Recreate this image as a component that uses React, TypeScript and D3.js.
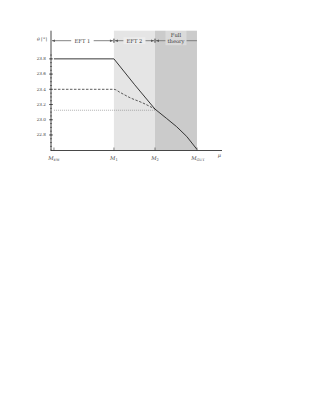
import React, {useEffect, useRef} from 'react'
import * as d3 from 'd3'

// scales on a log10(mu) axis, theta in degrees
const scaleNames = ['EW', '1', '2', 'GUT']
const scaleLogs = [2, 7.87, 11.89, 16]
const yTicks = [22.8, 23.0, 23.2, 23.4, 23.6, 23.8]

const solidLog = [2, 7.87, 9.9, 11.89, 13.0, 14.0, 15.0, 16.0]
const solidTheta = [23.8, 23.8, 23.46, 23.14, 23.02, 22.91, 22.78, 22.61]

const dashedLog = [2, 7.87, 8.46, 9.44, 10.71, 11.89]
const dashedTheta = [23.4, 23.4, 23.36, 23.29, 23.22, 23.14]

const dottedLog = [2, 11.89]
const dottedTheta = [23.125, 23.125]

const regions = [
  {label: ['EFT 1'], from: 0, to: 1},
  {label: ['EFT 2'], from: 1, to: 2},
  {label: ['Full', 'theory'], from: 2, to: 3},
]

const W = 324, H = 420
const fontFam = '"DejaVu Serif", "Liberation Serif", serif'

export default function App() {
  const ref = useRef<SVGSVGElement>(null)

  useEffect(() => {
    const svg = d3.select(ref.current)
    svg.selectAll('*').remove()

    const x = d3.scaleLinear().domain([1.71, 18.45]).range([51, 222])
    const y = d3.scaleLinear().domain([22.596, 24.17]).range([150.5, 30.7])

    const top = y(24.17), bottom = y(22.596)

    // shaded regions
    svg.append('rect')
      .attr('x', x(scaleLogs[1])).attr('y', top)
      .attr('width', x(scaleLogs[2]) - x(scaleLogs[1])).attr('height', bottom - top)
      .attr('fill', '#e5e5e5')
    svg.append('rect')
      .attr('x', x(scaleLogs[2])).attr('y', top)
      .attr('width', x(scaleLogs[3]) - x(scaleLogs[2])).attr('height', bottom - top)
      .attr('fill', '#cbcbcb')

    // header arrows
    const hy = 40.7
    const hdr = svg.append('g')
    regions.forEach((r, i) => {
      const x0 = i === 0 ? x(scaleLogs[0]) - 3 : x(scaleLogs[r.from])
      const x1 = x(scaleLogs[r.to])
      const cx = (x0 + x1) / 2
      const boxW = r.label.length > 1 ? 21 : (i === 0 ? 22 : 22)
      const boxH = r.label.length > 1 ? 15 : 7
      hdr.append('line').attr('x1', x0 + 1).attr('x2', cx - boxW / 2)
        .attr('y1', hy).attr('y2', hy).attr('stroke', '#777').attr('stroke-width', 0.9)
      hdr.append('line').attr('x1', cx + boxW / 2).attr('x2', x1 - (i === 2 ? 0 : 1))
        .attr('y1', hy).attr('y2', hy).attr('stroke', '#777').attr('stroke-width', 0.9)
      // arrowheads
      hdr.append('path').attr('d', `M${x0 + 1},${hy} l3,-1.3 v2.6 z`).attr('fill', '#555')
      if (i < 2) {
        hdr.append('path').attr('d', `M${x1 - 1},${hy} l-3,-1.3 v2.6 z`).attr('fill', '#555')
        hdr.append('line').attr('x1', x1).attr('x2', x1).attr('y1', hy - 2).attr('y2', hy + 2)
          .attr('stroke', '#555').attr('stroke-width', 0.7)
      }
      if (i > 0) {
        hdr.append('line').attr('x1', x0).attr('x2', x0).attr('y1', hy - 2).attr('y2', hy + 2)
          .attr('stroke', '#555').attr('stroke-width', 0.7)
      }
      hdr.append('rect').attr('x', cx - boxW / 2).attr('y', hy - boxH / 2 - (r.label.length > 1 ? 3 : 0))
        .attr('width', boxW).attr('height', boxH)
        .attr('fill', 'white').attr('fill-opacity', i === 0 ? 1 : 0.3)
      r.label.forEach((t, k) => {
        hdr.append('text').attr('x', cx)
          .attr('y', r.label.length > 1 ? hy - 4 + k * 6.5 : hy + 1.8)
          .attr('text-anchor', 'middle').attr('font-size', 5.2).attr('font-family', fontFam)
          .attr('fill', '#333').text(t)
      })
    })

    const line = d3.line<[number, number]>().x(d => x(d[0])).y(d => y(d[1]))

    svg.append('path')
      .datum(d3.zip(dottedLog, dottedTheta) as [number, number][])
      .attr('d', line).attr('fill', 'none').attr('stroke', '#888')
      .attr('stroke-width', 0.8).attr('stroke-dasharray', '0.8,1.2')

    svg.append('path')
      .datum(d3.zip(dashedLog, dashedTheta) as [number, number][])
      .attr('d', line.curve(d3.curveMonotoneX)).attr('fill', 'none').attr('stroke', '#333')
      .attr('stroke-width', 0.8).attr('stroke-dasharray', '2.5,1.5')

    svg.append('path')
      .datum(d3.zip(solidLog, solidTheta) as [number, number][])
      .attr('d', line.curve(d3.curveLinear)).attr('fill', 'none').attr('stroke', '#222')
      .attr('stroke-width', 0.9)

    // axes
    const axisCol = '#333'
    svg.append('line').attr('x1', x(1.71)).attr('x2', x(1.71)).attr('y1', top).attr('y2', bottom)
      .attr('stroke', axisCol).attr('stroke-width', 0.9)
    svg.append('line').attr('x1', x(1.71)).attr('x2', x(18.45)).attr('y1', bottom).attr('y2', bottom)
      .attr('stroke', axisCol).attr('stroke-width', 0.9)

    const minor = d3.range(22.6, 23.86, 0.05)
    svg.selectAll('minorTicks').data(minor).enter().append('line')
      .attr('x1', x(1.71) - 1).attr('x2', x(1.71) + 1)
      .attr('y1', d => y(d)).attr('y2', d => y(d))
      .attr('stroke', axisCol).attr('stroke-width', 0.6)
    svg.selectAll('majorTicks').data(yTicks).enter().append('line')
      .attr('x1', x(1.71) - 2).attr('x2', x(1.71) + 2)
      .attr('y1', d => y(d)).attr('y2', d => y(d))
      .attr('stroke', axisCol).attr('stroke-width', 0.7)
    svg.selectAll('yLabels').data(yTicks).enter().append('text')
      .attr('x', x(1.71) - 5).attr('y', d => y(d) + 1.4)
      .attr('text-anchor', 'end').attr('font-size', 4.2).attr('font-family', fontFam)
      .attr('fill', '#444').text(d => d.toFixed(1))

    svg.append('text').attr('x', 47).attr('y', 41).attr('text-anchor', 'end')
      .attr('font-size', 4.6).attr('font-family', fontFam).attr('fill', '#444')
      .html('<tspan font-style="italic">θ</tspan> [°]')

    svg.selectAll('xTicks').data(scaleLogs).enter().append('line')
      .attr('x1', d => x(d)).attr('x2', d => x(d))
      .attr('y1', bottom).attr('y2', bottom - 3)
      .attr('stroke', axisCol).attr('stroke-width', 0.6)
    const xl = svg.selectAll('xLabels').data(scaleLogs).enter().append('text')
      .attr('x', (d, i) => x(d) + (i === 3 ? 1 : 0)).attr('y', bottom + 9)
      .attr('text-anchor', 'middle').attr('font-size', 5.2).attr('font-family', fontFam)
      .attr('fill', '#444')
    xl.append('tspan').attr('font-style', 'italic').text('M')
    xl.append('tspan').attr('font-size', 3.6).attr('dy', 1.2).text((d, i) => scaleNames[i])

    svg.append('text').attr('x', x(18.2)).attr('y', bottom + 6).attr('text-anchor', 'middle')
      .attr('font-size', 5).attr('font-style', 'italic').attr('font-family', fontFam)
      .attr('fill', '#444').text('μ')
  }, [])

  return (
    <svg ref={ref} width={W} height={H}
      style={{position: 'absolute', left: 0, top: 0, background: 'white'}} />
  )
}
